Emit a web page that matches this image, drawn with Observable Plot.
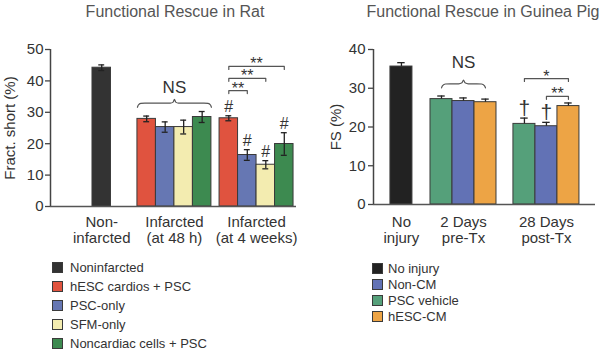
<!DOCTYPE html>
<html><head><meta charset="utf-8">
<script src="https://cdn.jsdelivr.net/npm/d3@7"></script>
<script src="https://cdn.jsdelivr.net/npm/@observablehq/plot@0.6"></script>
<style>
body{margin:0;background:#fff;font-family:"Liberation Sans",Arial,Helvetica,sans-serif;}
#wrap{position:relative;width:605px;height:351px;overflow:hidden;background:#fff;}
.title{position:absolute;top:3px;font-size:16px;line-height:18px;color:#555;white-space:nowrap;transform:translateX(-50%);}
.panel{position:absolute;top:0;}
.legend{position:absolute;font-size:13px;color:#333;}
.legend .row{display:flex;align-items:center;white-space:nowrap;}
.legend .sw{width:9px;height:9px;border:1px solid #3a3a3a;flex:none;}
</style></head><body>
<div id="wrap">
  <div class="title" style="left:175px">Functional Rescue in Rat</div>
  <div class="title" style="left:483px">Functional Rescue in Guinea Pig</div>
  <div class="panel" id="rat" style="left:0"></div>
  <div class="panel" id="gp" style="left:305px"></div>
  <div class="legend" id="ratLegend" style="left:52px;top:258px"></div>
  <div class="legend" id="gpLegend" style="left:372px;top:260px"></div>
</div>
<script>
// ---------- DATA: rat ----------
const ratTitle = "Functional Rescue in Rat";
const ratYLabel = "Fract. short (%)";
const ratGroups = ["Non-\ninfarcted", "Infarcted\n(at 48 h)", "Infarcted\n(at 4 weeks)"];
const ratSeries = ["Noninfarcted", "hESC cardios + PSC", "PSC-only", "SFM-only", "Noncardiac cells + PSC"];
const ratGroupSeries = [[0], [1, 2, 3, 4], [1, 2, 3, 4]];
const ratMeans = [[44.2], [27.9, 25.3, 25.3, 28.5], [28.1, 16.4, 13.3, 19.9]];
const ratErrors = [[0.9], [0.9, 1.65, 2.2, 1.75], [0.8, 1.7, 1.3, 3.6]];
const ratMarks = [[""], ["", "", "", ""], ["#", "#", "#", "#"]];
const ratYTicks = [0, 10, 20, 30, 40, 50];
// brackets: group, bar a, bar b, level (data units), label
const ratBrackets = [
  {g: 2, a: 0, b: 1, y: 36.9, label: "**"},
  {g: 2, a: 0, b: 2, y: 40.8, label: "**"},
  {g: 2, a: 0, b: 3, y: 44.6, label: "**"}
];
const ratBraces = [{g: 1, y: 31.6, label: "NS", labelY: 37.9}];

// ---------- DATA: guinea pig ----------
const gpTitle = "Functional Rescue in Guinea Pig";
const gpYLabel = "FS (%)";
const gpGroups = ["No\ninjury", "2 Days\npre-Tx", "28 Days\npost-Tx"];
const gpSeries = ["No injury", "Non-CM", "PSC vehicle", "hESC-CM"];
const gpGroupSeries = [[0], [2, 1, 3], [2, 1, 3]];
const gpMeans = [[35.6], [27.2, 26.7, 26.4], [20.8, 20.2, 25.4]];
const gpErrors = [[1.0], [0.8, 0.8, 0.8], [1.5, 1.0, 0.8]];
const gpMarks = [[""], ["", "", ""], ["†", "†", ""]];
const gpYTicks = [0, 10, 20, 30, 40];
const gpBrackets = [
  {g: 2, a: 0, b: 2, y: 32.5, label: "*"},
  {g: 2, a: 1, b: 2, y: 27.9, label: "**"}
];
const gpBraces = [{g: 1, y: 30.1, label: "NS", labelY: 36.6}];

// ---------- STYLES ----------
const ratColors = ["#333333", "#e0533f", "#6677b3", "#f3ecb0", "#3d8a50"];
const gpColors = ["#222222", "#6272b5", "#55a07a", "#eda445"];

// ---------- LAYOUT (bar-width units) ----------
const ratLayout = {starts: [2.27, 4.70, 9.14], total: 13.3, braceFromCenters: false, capHalf: 0.16, twoSided: true,
  width: 305, height: 250, margins: [49, 9, 44, 50], yMax: 50, labelOffset: 46, xLabelDy: 8, tickPadding: 2};
const gpLayout = {starts: [0.77, 2.59, 6.36], total: 10.09, braceFromCenters: true, capHalf: 0.17, twoSided: false,
  width: 300, height: 250, margins: [49, 10, 46, 68], yMax: 40, labelOffset: 43, xLabelDy: 10, tickPadding: 3};

function buildChart(groups, groupSeries, means, errs, marks, colors, brackets, braces, yTicks, yLabel, L) {
  const rows = [];
  groupSeries.forEach((ser, g) => ser.forEach((s, i) => {
    const x1 = L.starts[g] + i;
    rows.push({g, i, s, x1, x2: x1 + 1, xc: x1 + 0.5, mean: means[g][i], err: errs[g][i], mark: marks[g][i]});
  }));
  const barOf = (g, i) => rows.find(r => r.g === g && r.i === i);
  const groupInfo = groups.map((name, g) => {
    const n = groupSeries[g].length;
    return {name, g, x1: L.starts[g], x2: L.starts[g] + n, xc: L.starts[g] + n / 2};
  });
  const errLo = d => L.twoSided ? d.mean - d.err : d.mean;
  const caps = rows.flatMap(d => (L.twoSided ? [d.mean - d.err, d.mean + d.err] : [d.mean + d.err]).map(y => ({y, xc: d.xc})));

  const bracketPts = [];
  brackets.forEach((b, k) => {
    const xa = barOf(b.g, b.a).xc, xb = barOf(b.g, b.b).xc, drop = L.yMax * 0.019;
    [[xa, b.y - drop], [xa, b.y], [xb, b.y], [xb, b.y - drop]].forEach(([x, y]) => bracketPts.push({k, x, y}));
  });
  const bracketLabels = brackets.map(b => ({x: (barOf(b.g, b.a).xc + barOf(b.g, b.b).xc) / 2, y: b.y, label: b.label}));

  const bracePts = [];
  braces.forEach((br, k) => {
    const gi = groupInfo[br.g];
    const n = groupSeries[br.g].length;
    const xa = L.braceFromCenters ? barOf(br.g, 0).xc : gi.x1;
    const xb = L.braceFromCenters ? barOf(br.g, n - 1).xc : gi.x2;
    const m = (xa + xb) / 2, u = L.yMax / 38;
    const pts = [[xa, br.y], [xa + 0.05, br.y + 0.55 * u], [xa + 0.18, br.y + 0.95 * u], [xa + 0.4, br.y + u],
                 [m - 0.22, br.y + u], [m - 0.07, br.y + 1.25 * u], [m, br.y + 1.9 * u], [m + 0.07, br.y + 1.25 * u],
                 [m + 0.22, br.y + u], [xb - 0.4, br.y + u], [xb - 0.18, br.y + 0.95 * u], [xb - 0.05, br.y + 0.55 * u], [xb, br.y]];
    pts.forEach(([x, y]) => bracePts.push({k, x, y}));
  });
  const braceLabels = braces.map(br => ({x: groupInfo[br.g].xc, y: br.labelY, label: br.label}));

  const ink = "#333";
  const [mt, mr, mb, ml] = L.margins;
  return Plot.plot({
    width: L.width, height: L.height,
    marginTop: mt, marginRight: mr, marginBottom: mb, marginLeft: ml,
    style: {fontFamily: '"Liberation Sans", Arial, Helvetica, sans-serif', fontSize: "15px", color: ink, background: "transparent", overflow: "visible"},
    x: {domain: [0, L.total], axis: null},
    y: {domain: [0, L.yMax]},
    marks: [
      Plot.axisY({ticks: yTicks, tickSize: 5, tickPadding: L.tickPadding, fontSize: 15, stroke: "#444", strokeWidth: 1.3,
        label: yLabel, labelAnchor: "center", labelArrow: "none", labelOffset: L.labelOffset}),
      Plot.rect(rows, {x1: "x1", x2: "x2", y1: 0, y2: "mean", fill: d => colors[d.s], stroke: "#3a3a3a", strokeWidth: 1}),
      Plot.ruleX(rows, {x: "xc", y1: errLo, y2: d => d.mean + d.err, stroke: "#222", strokeWidth: 1.3}),
      Plot.ruleY(caps, {y: "y", x1: d => d.xc - L.capHalf, x2: d => d.xc + L.capHalf, stroke: "#222", strokeWidth: 1.3}),
      Plot.ruleY([0], {stroke: "#555", strokeWidth: 1.5}),
      Plot.ruleX([0], {y1: 0, y2: L.yMax, stroke: "#444", strokeWidth: 1.5}),
      Plot.text(groupInfo, {x: "xc", y: 0, text: "name", lineAnchor: "top", dy: L.xLabelDy, fontSize: 15, lineHeight: 1.13, fill: ink}),
      Plot.text(rows.filter(d => d.mark === "#"), {x: "xc", y: d => d.mean + d.err, text: "mark", lineAnchor: "bottom", dy: -4, fontSize: 16, fill: ink}),
      Plot.text(rows.filter(d => d.mark === "†"), {x: "xc", y: d => d.mean + d.err, text: "mark", lineAnchor: "bottom", dy: -3, fontSize: 21, fill: ink}),
      Plot.line(bracketPts, {x: "x", y: "y", z: "k", stroke: "#555", strokeWidth: 1.2}),
      Plot.text(bracketLabels, {x: "x", y: "y", text: "label", lineAnchor: "bottom", dy: 3, fontSize: 16, fill: ink}),
      Plot.line(bracePts, {x: "x", y: "y", z: "k", curve: "monotone-x", stroke: "#555", strokeWidth: 1.2}),
      Plot.text(braceLabels, {x: "x", y: "y", text: "label", lineAnchor: "middle", fontSize: 17, fill: ink})
    ]
  });
}

document.getElementById("rat").appendChild(
  buildChart(ratGroups, ratGroupSeries, ratMeans, ratErrors, ratMarks, ratColors, ratBrackets, ratBraces, ratYTicks, ratYLabel, ratLayout));
document.getElementById("gp").appendChild(
  buildChart(gpGroups, gpGroupSeries, gpMeans, gpErrors, gpMarks, gpColors, gpBrackets, gpBraces, gpYTicks, gpYLabel, gpLayout));

function legend(el, names, colors, rowH, gap) {
  names.forEach((n, i) => {
    const row = document.createElement("div");
    row.className = "row"; row.style.height = rowH + "px";
    const sw = document.createElement("span"); sw.className = "sw"; sw.style.background = colors[i]; sw.style.marginRight = gap + "px";
    const t = document.createElement("span"); t.textContent = n;
    row.append(sw, t); el.appendChild(row);
  });
}
legend(document.getElementById("ratLegend"), ratSeries, ratColors, 18.9, 7);
legend(document.getElementById("gpLegend"), gpSeries, gpColors, 16, 5);
</script>
</body></html>
